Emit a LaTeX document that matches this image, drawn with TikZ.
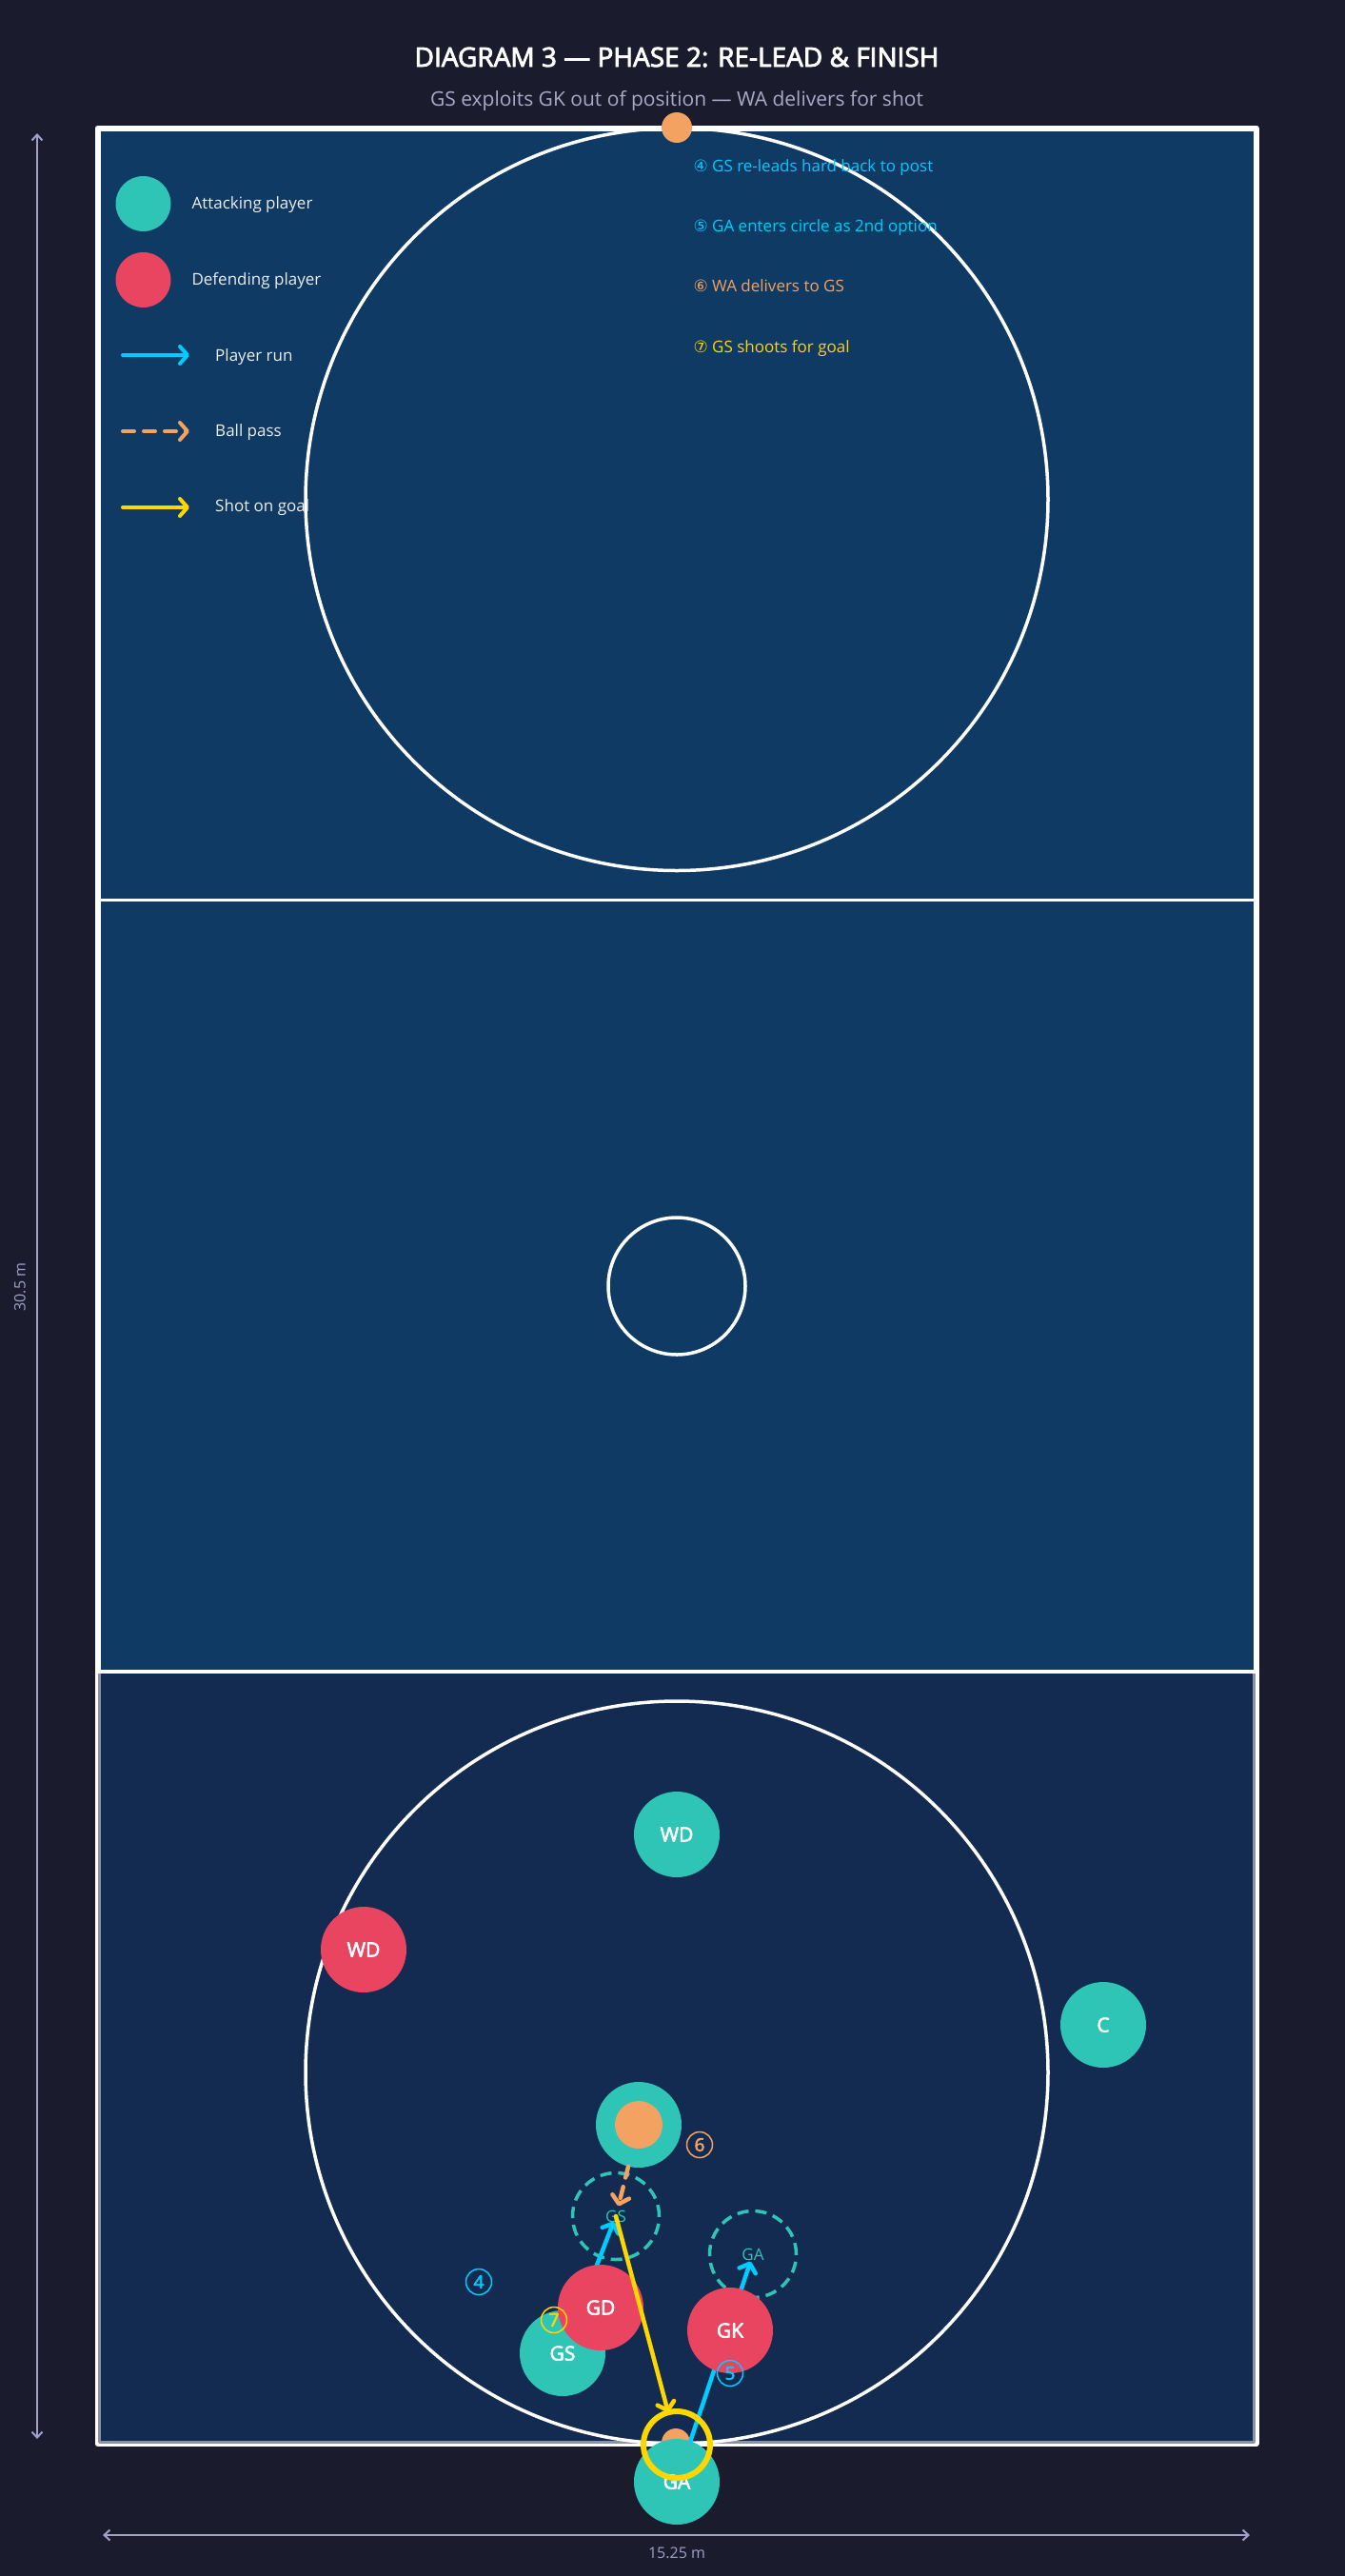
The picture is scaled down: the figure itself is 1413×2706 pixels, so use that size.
\documentclass[tikz,border=0pt]{standalone}
\usepackage{fontspec}
\setmainfont{Open Sans}[AutoFakeBold=3]
\newfontfamily\symfont{DejaVu Sans}
\usetikzlibrary{arrows.meta}

\definecolor{bgnavy}{RGB}{27,27,46}
\definecolor{courtblue}{RGB}{15,58,100}
\definecolor{thirdblue}{RGB}{19,43,80}
\definecolor{attack}{RGB}{46,196,182}
\definecolor{defend}{RGB}{233,69,96}
\definecolor{ballorange}{RGB}{244,162,97}
\definecolor{runcyan}{RGB}{0,204,255}
\definecolor{shotgold}{RGB}{255,215,0}
\definecolor{dimgrey}{RGB}{160,160,200}
\definecolor{subgrey}{RGB}{170,170,200}
\definecolor{edgegrey}{RGB}{140,146,165}

\tikzset{
  attacker/.style={circle, fill=attack, minimum size=90pt, inner sep=0pt, text=white, font=\fontsize{21}{24}\selectfont\bfseries},
  defender/.style={attacker, fill=defend},
  ghost/.style={circle, draw=attack, line width=3.5pt, dash pattern=on 12pt off 7pt, minimum size=91pt, inner sep=0pt, text=attack, font=\fontsize{17}{20}\selectfont},
  ball/.style={circle, fill=ballorange, inner sep=0pt},
  stepmark/.style={circle, draw=#1, text=#1, line width=1.5pt, minimum size=27pt, inner sep=0pt, font=\fontsize{19}{22}\selectfont\bfseries},
  run/.style={runcyan, line width=4.5pt, line cap=round, -{Straight Barb[length=8pt,width=18pt,round]}},
  pass/.style={run, ballorange, dash pattern=on 12pt off 10pt},
  shot/.style={run, shotgold},
  legtext/.style={anchor=base west, text=white!92!bgnavy, font=\fontsize{17}{20}\selectfont},
  notetext/.style={anchor=base west, text=#1, font=\fontsize{17}{20}\selectfont},
  dimline/.style={dimgrey, line width=2pt, {Straight Barb[length=6pt,width=11pt]}-{Straight Barb[length=6pt,width=11pt]}},
  dimtext/.style={text=dimgrey, font=\fontsize{16}{19}\selectfont},
}

\begin{document}
\begin{tikzpicture}[x=1pt, y=-1pt, line join=round]
  \def\cl{102.5} \def\cr{1319.5} % court edges
  \def\ct{134.5} \def\cb{2567}
  \def\cx{711}
  \fill[bgnavy] (0,0) rectangle (1413,2706);
  \useasboundingbox (0,0) rectangle (1413,2706);
  % court
  \fill[courtblue] (\cl,\ct) rectangle (\cr,\cb);
  \draw[white, line width=6pt] (\cl,\ct) rectangle (\cr,\cb);
  \draw[edgegrey, line width=3pt, fill=thirdblue] (104.5,1756) rectangle (1317.5,2565);
  \draw[white, line width=3.5pt] (\cl,945.3) -- (\cr,945.3);
  \draw[white, line width=3.5pt] (\cl,1756.2) -- (\cr,1756.2);
  \draw[white, line width=3.5pt] (\cx,524.5) circle (390);
  \draw[white, line width=3.5pt] (\cx,2177) circle (390);
  \draw[white, line width=3.5pt] (\cx,1351) circle (72);
  \node[ball, minimum size=32pt] (topball) at (\cx,134) {};

  \node[anchor=base, text=white, font=\fontsize{28}{32}\selectfont\bfseries] (title) at (\cx,70) {DIAGRAM 3 — PHASE 2: RE-LEAD \& FINISH};
  \node[anchor=base, text=subgrey, font=\fontsize{21}{24}\selectfont] (subtitle) at (\cx,111.7) {GS exploits GK out of position — WA delivers for shot};

  % dimensions
  \coordinate (dimtop) at (39,140); \coordinate (dimbot) at (39,2562);
  \coordinate (dimleft) at (108,2663); \coordinate (dimright) at (1313,2663);
  \draw[dimline] (dimtop) -- (dimbot);
  \draw[dimline] (dimleft) -- (dimright);
  \node[dimtext, rotate=90] (lenlabel) at (21,1352) {30.5 m};
  \node[dimtext, anchor=base] (widlabel) at (\cx,2687) {15.25 m};

  % key
  \node[circle, fill=attack, minimum size=58pt] (keyatt) at (150.5,214) {};
  \node[legtext] (keyattlbl) at (198,219) {Attacking player};
  \node[circle, fill=defend, minimum size=58pt] (keydef) at (150.5,294) {};
  \node[legtext] (keydeflbl) at (198,299) {Defending player};
  \coordinate (keyrunA) at (129,373); \coordinate (keyrunB) at (199,373);
  \draw[run, line width=4pt] (keyrunA) -- (keyrunB);
  \node[legtext] (keyrunlbl) at (222.7,379.3) {Player run};
  \coordinate (keypassA) at (129,453); \coordinate (keypassB) at (199,453);
  \draw[pass, line width=4pt] (keypassA) -- (keypassB);
  \node[legtext] (keypasslbl) at (222.7,458.3) {Ball pass};
  \coordinate (keyshotA) at (129,533); \coordinate (keyshotB) at (199,533);
  \draw[shot, line width=4pt] (keyshotA) -- (keyshotB);
  \node[legtext] (keyshotlbl) at (222.7,537.3) {Shot on goal};

  \node[notetext=runcyan] (note4) at (725,180) {{\symfont ④} GS re-leads hard back to post};
  \node[notetext=runcyan] (note5) at (725,243) {{\symfont ⑤} GA enters circle as 2nd option};
  \node[notetext=ballorange] (note6) at (725,306) {{\symfont ⑥} WA delivers to GS};
  \node[notetext=shotgold] (note7) at (725,370.7) {{\symfont ⑦} GS shoots for goal};

  % players
  \node[ghost] (gsghost) at (647,2328) {GS};
  \node[ghost] (gaghost) at (791,2368) {GA};
  \node[attacker] (gs) at (591,2472) {GS};
  \node[ball, minimum size=30pt] (goalball) at (710,2566) {};
  \node[attacker] (ga) at (711,2607) {GA};
  \draw[run, shorten >=6pt] (gs) -- (gsghost.center);
  \draw[run, shorten >=8pt] (ga) -- (gaghost.center);
  \node[defender] (gd) at (631,2424) {GD};
  \node[defender] (gk) at (767,2448) {GK};
  \node[attacker] (wd) at (711,1927) {WD};
  \node[defender] (wdd) at (382,2048) {WD};
  \node[attacker] (c) at (1159,2127) {C};
  \node[attacker] (wa) at (671,2232) {};
  \node[ball, minimum size=50pt] (waball) at (wa) {};
  \draw[pass, shorten >=11pt] (wa) -- (gsghost.center);
  \node[circle, draw=shotgold, line width=6pt, minimum size=70pt, outer sep=0pt] (ring) at (711,2568) {};
  \draw[shot] (gsghost.center) -- (ring);

  \node[stepmark=runcyan] (mark4) at (503,2397) {4};
  \node[stepmark=runcyan] (mark5) at (767,2493) {5};
  \node[stepmark=ballorange] (mark6) at (735,2253) {6};
  \node[stepmark=shotgold] (mark7) at (582,2437) {7};
\end{tikzpicture}
\end{document}
